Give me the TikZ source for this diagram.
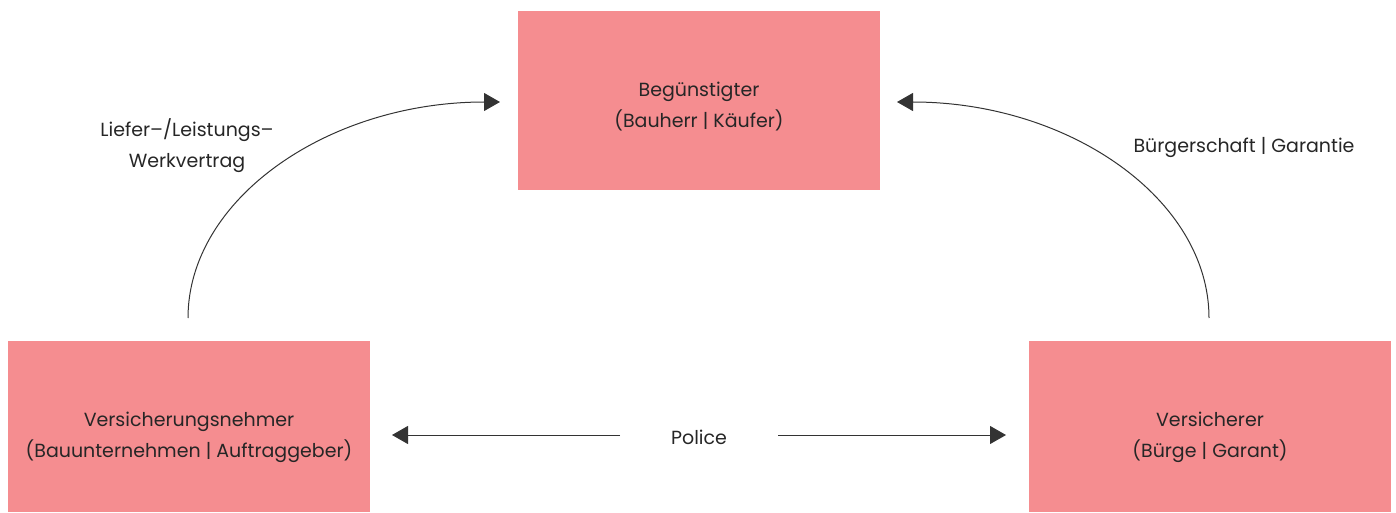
\documentclass[tikz,border=0pt]{standalone}
\usepackage{fontspec}
\setmainfont{Poppins}
\usetikzlibrary{arrows.meta}
\definecolor{boxpink}{HTML}{F58D90}
\definecolor{linegray}{HTML}{333333}
\begin{document}
\begin{tikzpicture}[x=1pt,y=-1pt,
  box/.style={fill=boxpink,draw=none,minimum width=362pt,inner sep=0pt},
  lbl/.style={align=center,inner sep=0pt,text=black!85,font=\fontsize{19}{31}\selectfont},
  conn/.style={draw=linegray,line width=1pt,-{Triangle[length=16pt,width=18pt]}}]
\useasboundingbox (0,0) rectangle (1396,513);
\node[box,minimum height=179pt] (ben) at (699,100.5) {};
\node[box,minimum height=171pt] (vn) at (189,426.5) {};
\node[box,minimum height=171pt] (vs) at (1210,426.5) {};
\node[lbl] (bentxt) at ([yshift=-6pt]ben.center) {Begünstigter\\(Bauherr | Käufer)};
\node[lbl] (vntxt) at ([yshift=-10.5pt]vn.center) {Versicherungsnehmer\\(Bauunternehmen | Auftraggeber)};
\node[lbl] (vstxt) at ([yshift=-10.5pt]vs.center) {Versicherer\\(Bürge | Garant)};
\node[lbl] (police) at (699,437) {Police};
\node[lbl] (liefer) at (187,146) {Liefer–/Leistungs–\\Werkvertrag};
\node[lbl] (buerg) at (1244,148) {Bürgerschaft | Garantie};
\coordinate (ls) at (188,318);
\coordinate (lt) at (500,102);
\coordinate (rs) at (1209,318);
\coordinate (rt) at (897,102);
\coordinate (pl0) at (620,435);
\coordinate (pl1) at (392,435);
\coordinate (pr0) at (778,435);
\coordinate (pr1) at (1006,435);
\draw[conn] (ls) .. controls (188,199) and (328,102) .. (lt);
\draw[conn] (rs) .. controls (1209,199) and (1069,102) .. (rt);
\draw[conn] (pl0) -- (pl1);
\draw[conn] (pr0) -- (pr1);
\end{tikzpicture}
\end{document}
